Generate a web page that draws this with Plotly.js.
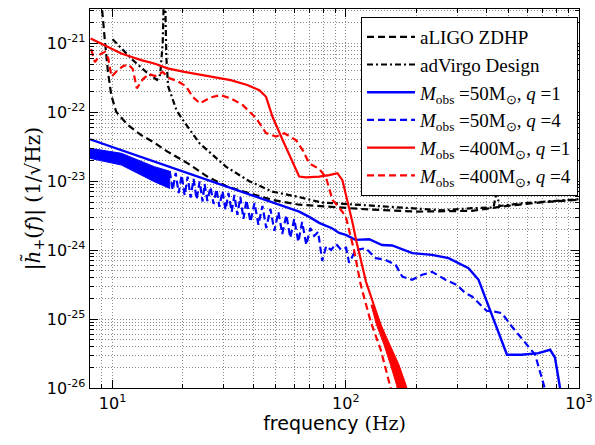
<!DOCTYPE html>
<html>
<head>
<meta charset="utf-8">
<script src="https://cdn.plot.ly/plotly-3.0.1.min.js"></script>
<style>html,body{margin:0;padding:0;background:#fff;}#chart{width:595px;height:445px;}</style>
</head>
<body>
<div id="chart"></div>
<script>
// ---- data (frequency in Hz, strain amplitude in 1/sqrt(Hz)) ----
const aligoF = [8.85, 9.0, 9.09, 9.25, 9.40, 9.55, 9.87, 10.36, 11.6, 13.25, 15.1, 17.2, 21.0, 25.5, 31.1, 48.4, 63.1, 90.6, 126, 200, 268, 347, 484, 670, 963, 1000];
const aligoH = [6.31e-21, 3.24e-21, 1.84e-21, 1.17e-21, 6.76e-22, 3.89e-22, 1.78e-22, 1.02e-22, 6.61e-23, 4.68e-23, 3.63e-23, 2.69e-23, 1.82e-23, 1.17e-23, 8.32e-24, 5.37e-24, 4.57e-24, 4.17e-24, 3.89e-24, 3.63e-24, 3.63e-24, 3.72e-24, 4.37e-24, 4.90e-24, 5.37e-24, 5.50e-24];

const virgoF = [10.0, 12.2, 14.0, 15.5, 16.0, 16.4, 16.6, 16.8, 17.0, 17.3, 18.8, 20.3, 23.6, 30.7, 38.6, 48.4, 61.1, 79.3, 90.6, 148, 258, 347, 430, 443, 456, 567, 1000];
const virgoH = [1.15e-21, 5.75e-22, 3.80e-22, 2.95e-22, 3.55e-22, 1.0e-21, 5.01e-21, 5.01e-21, 6.31e-22, 2.40e-22, 1.07e-22, 7.24e-23, 3.55e-23, 1.62e-23, 1.0e-23, 7.08e-24, 6.03e-24, 4.90e-24, 4.79e-24, 4.27e-24, 3.80e-24, 4.07e-24, 4.17e-24, 7.08e-24, 4.37e-24, 4.79e-24, 5.50e-24];

const m50q1F = [8.0, 23.6, 63.1, 69.7, 76.9, 82.4, 87.3, 93.6, 100, 110, 126, 143, 158, 193, 234, 276, 336, 371, 410, 452, 491, 567, 670, 752, 789, 829, 840];
const m50q1H = [4.06e-23, 1.14e-23, 3.62e-24, 3.04e-24, 2.49e-24, 2.25e-24, 2.08e-24, 1.78e-24, 1.67e-24, 1.41e-24, 1.44e-24, 1.19e-24, 1.17e-24, 9.06e-25, 8.55e-25, 7.66e-25, 5.48e-25, 3.72e-25, 1.52e-25, 6.27e-26, 3.04e-26, 3.04e-26, 3.21e-26, 3.59e-26, 2.75e-26, 1.01e-26, 8.0e-27];

// q=4, 50 Msun: dense oscillating band at low frequency (envelope outline), then the oscillating/dashed curve
const m50q4BandF = [8.0, 10.9, 15.1, 17.58, 17.58, 15.1, 10.9, 8.0];
const m50q4BandH = [3.01e-23, 2.55e-23, 1.63e-23, 1.40e-23, 7.87e-24, 9.86e-24, 1.72e-23, 2.15e-23];
const m50q4F = [17.58, 18.10, 18.64, 19.20, 19.78, 20.37, 20.98, 21.61, 22.25, 22.93, 23.61, 24.31,
  24.8, 25.5, 26.3, 27.1, 27.9, 28.7, 29.6, 30.5, 31.4, 32.4, 33.3, 34.3, 35.3, 36.4, 37.5, 39.0, 40.6, 42.2, 43.9, 45.6, 47.5, 49.4, 51.4, 53.4, 55.6, 57.8, 60.1, 62.6, 65.0, 67.7, 70.4, 73.2, 76.1, 79.2, 82.4, 86.5, 90.9, 95.5, 100.3, 103.3, 110.3, 121.8,
  134.4, 148.2, 163.6, 174.6, 192.6, 212.5, 234.5, 267.6, 299, 325.7, 347.5, 371.3, 401.6, 434.5, 467, 515.2, 587.7, 648.6, 692.1, 715.6];
const m50q4H = [1.40e-23, 7.48e-24, 1.32e-23, 6.76e-24, 1.23e-23, 6.22e-24, 1.17e-23, 5.82e-24, 1.08e-23, 5.45e-24, 9.93e-24, 5.09e-24,
  9.14e-24, 5.18e-24, 8.26e-24, 4.69e-24, 7.73e-24, 4.25e-24, 7.23e-24, 3.84e-24, 6.76e-24, 3.59e-24, 6.32e-24, 3.25e-24, 5.92e-24, 2.84e-24, 5.36e-24, 2.57e-24, 4.85e-24, 2.33e-24, 4.39e-24, 2.10e-24, 3.97e-24, 1.91e-24, 3.59e-24, 1.72e-24, 3.25e-24, 1.51e-24, 2.84e-24, 1.32e-24, 2.57e-24, 1.19e-24, 2.10e-24, 1.61e-24, 1.84e-24, 7.00e-25, 1.15e-24, 1.01e-24, 1.23e-24, 1.01e-24, 1.08e-24, 6.55e-25, 1.01e-24, 1.07e-24,
  7.66e-25, 7.23e-25, 6.12e-25, 4.14e-25, 3.72e-25, 4.39e-25, 4.85e-25, 3.72e-25, 3.14e-25, 2.38e-25, 2.13e-25, 1.71e-25, 1.32e-25, 1.28e-25, 1.22e-25, 7.82e-26, 4.49e-26, 3.04e-26, 1.41e-26, 9.44e-27];

const m400q1F = [8.05, 8.94, 9.86, 10.9, 12.0, 13.25, 15.1, 17.2, 20.3, 23.9, 28.2, 32.1, 37.8, 42.6, 45.5, 48.5, 53.6, 59.2, 63.1, 67.4, 76.9, 84.9, 92.1, 96.7, 101.6, 106.7, 110.7, 116.2, 122.1, 129.6, 138.8, 150.2, 160.9, 172.3, 175.8];
const m400q1H = [1.18e-21, 1.00e-21, 8.47e-22, 7.16e-22, 6.40e-22, 5.73e-22, 5.13e-22, 4.35e-22, 3.87e-22, 3.48e-22, 3.17e-22, 2.94e-22, 2.49e-22, 2.10e-22, 1.68e-22, 8.63e-23, 3.97e-23, 1.82e-23, 1.17e-23, 1.14e-23, 1.17e-23, 1.23e-23, 1.31e-23, 1.04e-23, 5.36e-24, 2.57e-24, 1.41e-24, 6.76e-25, 3.47e-25, 1.91e-25, 9.14e-26, 4.25e-26, 2.04e-26, 1.01e-26, 8.0e-27];
// oscillating ring-down tail of the q=1, 400 Msun curve (envelope outline)
const m400q1BandF = [131.5, 141.6, 154.6, 169.0, 181.0, 184.6, 167.3, 164.9, 155.4, 145.8, 135.4, 128.3];
const m400q1BandH = [1.61e-25, 8.26e-26, 4.25e-26, 2.18e-26, 1.12e-26, 8.85e-27, 8.85e-27, 1.12e-26, 2.18e-26, 4.25e-26, 8.26e-26, 1.61e-25];

const m400q4F = [8.09, 8.40, 8.87, 9.27, 9.58, 9.89, 10.43, 11.1, 11.7, 12.2, 12.7, 13.5, 14.3, 15.2, 16.4, 17.6, 19.0, 20.6, 22.1, 23.7, 26.2, 29.0, 32.1, 36.1, 41.2, 45.5, 50.2, 54.5, 61.1, 65.3, 69.7, 76.9, 82.2, 87.7, 93.6, 100, 108.4, 115.9, 127.9, 141.2, 155.6, 157.7];
const m400q4H = [8.26e-22, 5.36e-22, 7.00e-22, 7.55e-22, 6.07e-22, 3.30e-22, 3.97e-22, 4.69e-22, 4.93e-22, 4.25e-22, 2.23e-22, 3.04e-22, 3.59e-22, 3.36e-22, 3.84e-22, 3.11e-22, 2.84e-22, 2.40e-22, 1.67e-22, 1.35e-22, 1.64e-22, 1.78e-22, 1.60e-22, 1.28e-22, 8.26e-23, 5.01e-23, 4.46e-23, 4.97e-23, 3.97e-23, 2.84e-23, 1.82e-23, 1.51e-23, 1.14e-23, 5.36e-24, 4.17e-24, 3.07e-24, 1.01e-24, 3.14e-25, 9.14e-26, 3.59e-26, 1.01e-26, 8.0e-27];

const xTickVals = [10, 100, 1000];
const xTickText = ['10<sup>1</sup>', '10<sup>2</sup>', '10<sup>3</sup>'];
const yTickVals = [1e-26, 1e-25, 1e-24, 1e-23, 1e-22, 1e-21];
const yTickText = ['10<sup>-26</sup>', '10<sup>-25</sup>', '10<sup>-24</sup>', '10<sup>-23</sup>', '10<sup>-22</sup>', '10<sup>-21</sup>'];

const names = [
  'aLIGO ZDHP',
  'adVirgo Design',
  '<i>M</i><sub>obs</sub> =50M<sub>⊙</sub>, <i>q</i> =1',
  '<i>M</i><sub>obs</sub> =50M<sub>⊙</sub>, <i>q</i> =4',
  '<i>M</i><sub>obs</sub> =400M<sub>⊙</sub>, <i>q</i> =1',
  '<i>M</i><sub>obs</sub> =400M<sub>⊙</sub>, <i>q</i> =4'
];

const BLUE = '#0000ff', RED = '#ff0000', BLACK = '#000000';
const DASH = '7px,4px';

const traces = [
  {x: m50q4BandF, y: m50q4BandH, mode: 'lines', fill: 'toself', fillcolor: BLUE, line: {color: BLUE, width: 1}, showlegend: false, hoverinfo: 'skip'},
  {x: m400q1BandF, y: m400q1BandH, mode: 'lines', fill: 'toself', fillcolor: RED, line: {color: RED, width: 1}, showlegend: false, hoverinfo: 'skip'},
  {x: aligoF, y: aligoH, name: names[0], mode: 'lines', line: {color: BLACK, width: 2.2, dash: DASH}},
  {x: virgoF, y: virgoH, name: names[1], mode: 'lines', line: {color: BLACK, width: 2.2, dash: '6px,3px,2px,3px'}},
  {x: m50q1F, y: m50q1H, name: names[2], mode: 'lines', line: {color: BLUE, width: 2.4}},
  {x: m50q4F, y: m50q4H, name: names[3], mode: 'lines', line: {color: BLUE, width: 2.2, dash: DASH}},
  {x: m400q1F, y: m400q1H, name: names[4], mode: 'lines', line: {color: RED, width: 2.2}},
  {x: m400q4F, y: m400q4H, name: names[5], mode: 'lines', line: {color: RED, width: 2.2, dash: DASH}}
];

const gridCommon = {
  automargin: false,
  showgrid: true, gridcolor: '#8a8a8a', gridwidth: 1, griddash: '1px,2px',
  showline: true, linecolor: BLACK, linewidth: 1.3, mirror: 'allticks',
  ticks: 'inside', ticklen: 8, tickwidth: 1, tickcolor: BLACK,
  zeroline: false,
  tickfont: {family: 'DejaVu Sans', size: 16, color: BLACK},
  minor: {dtick: 'D1', ticks: 'inside', ticklen: 4, tickwidth: 1, tickcolor: BLACK,
          showgrid: true, gridcolor: '#8a8a8a', gridwidth: 1, griddash: '1px,2px'}
};

const layout = {
  width: 595, height: 445,
  margin: {l: 90, r: 16, t: 9, b: 57},
  paper_bgcolor: '#ffffff', plot_bgcolor: '#ffffff',
  showlegend: true,
  xaxis: Object.assign({}, gridCommon, {
    type: 'log', range: [Math.log10(8), 3],
    tickmode: 'array', tickvals: xTickVals, ticktext: xTickText,
    title: {text: 'frequency <span style="font-family:DejaVu Serif">(Hz)</span>', font: {family: 'DejaVu Sans', size: 19, color: BLACK}, standoff: 4}
  }),
  yaxis: Object.assign({}, gridCommon, {
    type: 'log', range: [-26, -20.5],
    tickmode: 'array', tickvals: yTickVals, ticktext: yTickText,
    title: {text: '|<i>h̃</i><sub>+</sub>(<i>f</i>)| (1/√Hz)', font: {family: 'DejaVu Serif', size: 20, color: BLACK}, standoff: 0}
  }),
  legend: {
    x: 0.998, y: 0.979, xanchor: 'right', yanchor: 'top',
    bgcolor: '#ffffff', bordercolor: BLACK, borderwidth: 1,
    font: {family: 'Liberation Serif', size: 19, color: BLACK},
    itemwidth: 48, tracegroupgap: 0
  }
};

Plotly.newPlot('chart', traces, layout, {displayModeBar: false, staticPlot: true});
</script>
</body>
</html>
